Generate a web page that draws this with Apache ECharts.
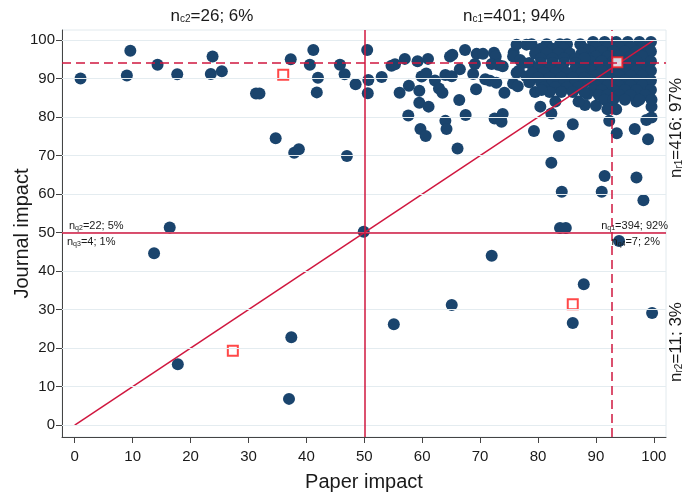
<!DOCTYPE html>
<html>
<head>
<meta charset="utf-8">
<title>Paper impact vs journal impact</title>
<script src="https://cdn.jsdelivr.net/npm/echarts@6.0.0/dist/echarts.min.js"></script>
</head>
<body style="margin:0">
<div id="main" style="width:682px;height:494px;"></div>
<script type="text/javascript">
// [paper impact, journal impact]
var sparsePoints = [
  [1.0,90.0],[9.6,97.2],[9.0,90.8],[14.3,93.6],[17.7,91.1],[23.8,95.7],[23.5,91.2],[25.4,91.9],
  [31.3,86.1],[31.9,86.1],[34.7,74.5],[37.3,95.0],[37.9,70.7],[38.7,71.6],[41.2,97.4],[40.6,93.6],
  [42.0,90.2],[41.8,86.4],[45.8,93.6],[46.6,91.1],[48.5,88.5],[47.0,69.9],[50.5,97.4],[50.7,89.6],
  [50.6,86.2],[53.0,90.4],[54.7,93.3],[55.3,93.7],[57.0,95.1],[56.1,86.3],[57.7,88.1],[57.6,80.4],
  [59.2,94.5],[61.0,95.1],[59.5,86.8],[59.9,90.5],[60.7,91.3],[62.2,89.5],[59.5,83.7],[61.1,82.7],
  [62.9,87.4],[63.5,86.3],[59.7,76.9],[60.6,75.1],[64.0,79.0],[64.2,76.9],[64.0,90.9],[65.1,90.6],
  [65.2,96.2],[64.8,95.7],[67.4,97.4],[66.5,92.4],[66.4,84.4],[67.5,80.5],[66.1,71.8],[69.4,96.4],
  [70.5,96.4],[69.1,93.8],[68.8,91.2],[69.3,87.2],[70.9,89.8],[71.7,89.4],[72.8,88.9],[72.4,96.7],
  [72.7,95.7],[72.0,93.8],[73.1,93.6],[73.9,93.2],[74.2,86.3],[72.5,79.6],[73.9,80.8],[73.7,78.8],
  [75.8,96.7],[76.3,98.8],[78.0,98.8],[75.7,95.7],[76.9,94.8],[77.4,94.0],[76.3,91.5],[76.7,92.0],
  [75.7,88.7],[76.5,88.0],[78.0,90.5],
  [80.4,82.7],[82.3,80.9],[79.3,76.4],[83.6,75.1],[86.0,78.1],[82.3,68.1],[88.1,83.1],[90.0,82.9],
  [92.3,79.0],[93.6,75.8],[96.7,76.9],[99.0,74.2],[98.7,79.2],[99.6,79.9],[99.6,82.7],[97.0,84.0],
  [91.5,64.7],[97.0,64.3],[84.1,60.6],[91.0,60.6],[98.2,58.4],
  [16.4,51.3],[13.7,44.6],[17.8,15.8],[37.4,22.8],[37.0,6.8],[49.9,50.2],[55.1,26.2],[65.1,31.2],
  [72.0,44.0],[86.0,26.5],[87.9,36.6],[94.0,47.8],[99.7,29.1],[83.8,51.2],[84.8,51.2]
];

var clusterPoints = [
  [89.5,99.5],[91.5,99.5],[93.5,99.5],[95.5,99.5],[97.5,99.5],[99.5,99.5],
  [90,98.2],[92,98.2],[94,98.2],[96,98.2],[98,98.2],
  [89,97],[91,97],[93,97],[95,97],[97,97],[99.5,97],
  [90,95.7],[92,95.7],[94,95.7],[96,95.7],[98,95.7],
  [89,94.5],[91,94.5],[93,94.5],[95,94.5],[97,94.5],[99.5,94.5],
  [90,93.2],[92,93.2],[94,93.2],[96,93.2],[98,93.2],
  [89,92],[91,92],[93,92],[95,92],[97,92],[99.5,92],
  [90,90.7],[92,90.7],[94,90.7],[96,90.7],[98,90.7],
  [89,89.5],[91,89.5],[93,89.5],[95,89.5],[97,89.5],[99.5,89.5],
  [90,88.2],[92,88.2],[94,88.2],[96,88.2],[98,88.2],
  [89.5,87],[91,87],[93,87],[95,87],[97,87],[99.5,87],
  [90.5,85.7],[92,85.7],[94,85.7],[96,85.7],[98.5,85.7],
  [91.5,84.5],[93,84.5],[95,84.5],[97.5,84.5],[99.6,84.5],[92,82],[93.5,82],[88.5,86],
  [78.9,98.9],[81.5,98.9],[83.8,98.9],[85,98.9],[87.3,98.9],
  [80.5,97.7],[82.5,97.7],[84.5,97.7],[88,97.7],
  [79.5,96.5],[81.5,96.5],[83.5,96.5],[85.5,96.5],[87.5,96.5],
  [80.5,95.2],[82.5,95.2],[84.5,95.2],[86.5,95.2],[88,95.2],
  [78.5,94],[80.5,94],[82.5,94],[84.5,94],[86.5,94],
  [80,92.7],[82,92.7],[84,92.7],[86.5,92.7],[88,92.7],
  [79,91.5],[81,91.5],[83,91.5],[85,91.5],[87.5,91.5],
  [80,90.2],[82,90.2],[84,90.2],[86,90.2],[88,90.2],
  [78.5,89],[80.5,89],[82.5,89],[84.5,89],[86.5,89],[88,89],
  [81,87.7],[83,87.7],[85,87.7],[87,87.7],
  [79.5,86.5],[82,86.5],[84,86.5],[86,86.5],[88,86.5],
  [80.6,87.0],[83,84],[87,84]
];

var highlightPoints = [[36.0,91.0],[27.3,19.3],[86.0,31.4],[93.7,94.2]];

var tickValues = [0,10,20,30,40,50,60,70,80,90,100];
var midCut = 50;
var paperCut = 92.8;
var journalCut = 94;

var red = '#d0173f';
var ink = '#1a1a1a';
var fontFam = 'Arial, "Liberation Sans", sans-serif';

function nLabel(sub, rest, size, subSize) {
  return {
    text: '{m|n}{s|' + sub + '}{m|' + rest + '}',
    rich: {
      m: { fontSize: size, fontFamily: fontFam, fill: ink, color: ink },
      s: { fontSize: subSize, fontFamily: fontFam, fill: ink, color: ink, padding: [Math.round(size * 0.35), 0, 0, 0] }
    }
  };
}

function textEl(x, y, label, align, rotation) {
  return {
    type: 'text', x: x, y: y, rotation: rotation || 0, z: 10,
    style: Object.assign({ align: align, verticalAlign: 'middle' }, label)
  };
}

var myChart = echarts.init(document.getElementById('main'));

var option = {
  animation: false,
  grid: {
    left: 62, right: 16, top: 30, bottom: 57,
    outerBoundsMode: 'none', containLabel: false,
    show: true, borderColor: '#e2eaee', borderWidth: 1
  },
  xAxis: {
    type: 'value', min: -2.2, max: 102.1,
    name: 'Paper impact', nameLocation: 'middle', nameGap: 35,
    nameTextStyle: { fontSize: 20, color: ink, fontFamily: fontFam },
    axisLine: { show: true, onZero: false, lineStyle: { color: '#444', width: 1 } },
    axisTick: { show: true, customValues: tickValues, length: 6, lineStyle: { color: '#444' } },
    axisLabel: { customValues: tickValues, fontSize: 15, color: ink, fontFamily: fontFam, margin: 12 },
    splitLine: { show: false }
  },
  yAxis: {
    type: 'value', min: -3.1, max: 102.6,
    name: 'Journal impact', nameLocation: 'middle', nameGap: 30, nameMoveOverlap: false,
    nameTextStyle: { fontSize: 20, color: ink, fontFamily: fontFam },
    axisLine: { show: true, onZero: false, lineStyle: { color: '#444', width: 1 } },
    axisTick: { show: true, customValues: tickValues, length: 6, lineStyle: { color: '#444' } },
    axisLabel: { customValues: tickValues, fontSize: 15, color: ink, fontFamily: fontFam, margin: 7 },
    splitLine: { show: false }
  },
  graphic: [
    textEl(212, 16, nLabel('c2', '=26; 6%', 17, 10), 'center'),
    textEl(514, 16, nLabel('c1', '=401; 94%', 17, 10), 'center'),
    textEl(676, 128, nLabel('r1', '=416; 97%', 17, 10), 'center', Math.PI / 2),
    textEl(676, 342, nLabel('r2', '=11; 3%', 17, 10), 'center', Math.PI / 2),
    textEl(69, 226, nLabel('q2', '=22; 5%', 11, 7), 'left'),
    textEl(67, 242, nLabel('q3', '=4; 1%', 11, 7), 'left'),
    textEl(668, 226, nLabel('q1', '=394; 92%', 11, 7), 'right'),
    textEl(660, 242, nLabel('q4', '=7; 2%', 11, 7), 'right')
  ],
  series: [
    {
      type: 'scatter', data: [], z: 0, silent: true,
      markLine: {
        silent: true, symbol: 'none', label: { show: false },
        lineStyle: { color: '#e4ecf0', width: 1, type: 'solid' },
        data: tickValues.map(function (v) { return { yAxis: v }; })
      }
    },
    {
      type: 'scatter', data: [], z: 1, silent: true,
      markLine: {
        silent: true, symbol: 'none', label: { show: false },
        lineStyle: { color: red, width: 1.5, type: 'solid' },
        data: [
          { yAxis: midCut }, { xAxis: midCut },
          { yAxis: journalCut, lineStyle: { type: [9, 5], color: red, width: 1.5 } },
          { xAxis: paperCut, lineStyle: { type: [9, 5], color: red, width: 1.5 } }
        ]
      }
    },
    {
      type: 'scatter', z: 2,
      symbolSize: 12,
      itemStyle: { color: '#1a446d', opacity: 1 },
      data: sparsePoints.concat(clusterPoints)
    },
    {
      type: 'line', z: 3, symbol: 'none', silent: true,
      lineStyle: { color: red, width: 1.5 },
      data: [[0, 0], [100, 100]]
    },
    {
      type: 'scatter', z: 4, symbol: 'rect', symbolSize: 10,
      itemStyle: { color: '#ffffff', borderColor: '#ff1a1a', borderWidth: 2 },
      data: highlightPoints
    }
  ]
};

myChart.setOption(option);
</script>
</body>
</html>
